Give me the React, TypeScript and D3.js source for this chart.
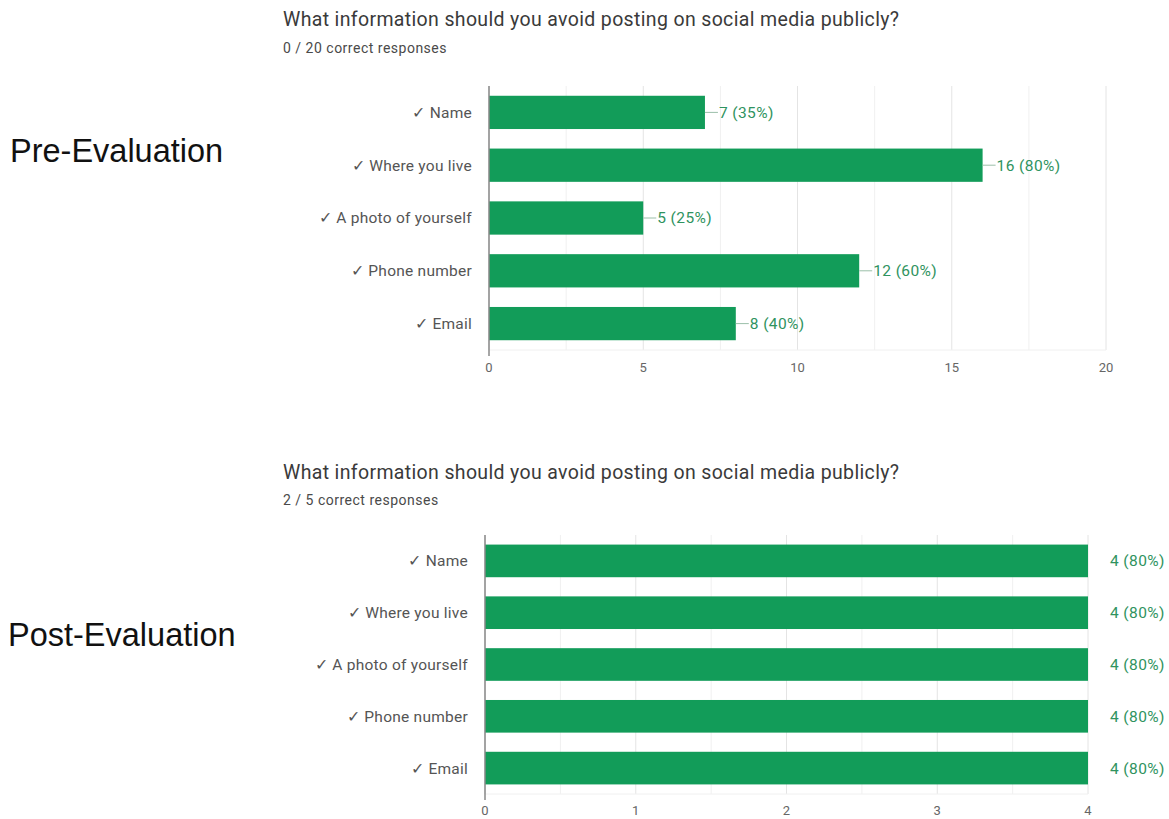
import React from "react";
import * as d3 from "d3";

const categories = ["✓ Name", "✓ Where you live", "✓ A photo of yourself", "✓ Phone number", "✓ Email"];
const preCounts = [7, 16, 5, 12, 8];
const preTotal = 20;
const preTicks = [0, 5, 10, 15, 20];
const postCounts = [4, 4, 4, 4, 4];
const postTotal = 5;
const postTicks = [0, 1, 2, 3, 4];
const questionTitle = "What information should you avoid posting on social media publicly?";
const preSubtitle = "0 / 20 correct responses";
const postSubtitle = "2 / 5 correct responses";
const sectionLabels = ["Pre-Evaluation", "Post-Evaluation"];

const FONT = "Roboto, Arial, 'Liberation Sans', sans-serif";
const BAR = "#129c59";
const VAL = "#2f9360";

type ChartProps = {
  counts: number[];
  total: number;
  ticks: number[];
  subtitle: string;
  xRange: [number, number];
  yRange: [number, number];
  titleY: number;
  subY: number;
  tickY: number;
  labelX: number;
  leader: boolean;
  valueGap: number;
};

function Chart(p: ChartProps) {
  const maxT = p.ticks[p.ticks.length - 1];
  const x = d3.scaleLinear().domain([0, maxT]).range(p.xRange);
  const y = d3.scaleBand<string>().domain(categories).range(p.yRange).paddingInner(0.37).paddingOuter(0.185);
  const step = p.ticks[1] - p.ticks[0];
  const minor = d3.range(0, maxT + 1e-9, step / 2);
  const [y0, y1] = p.yRange;
  return (
    <g>
      <text x={283} y={p.titleY} fontFamily={FONT} fontSize={19.5} letterSpacing={0.35} fill="#3a3a3a">{questionTitle}</text>
      <text x={283} y={p.subY} fontFamily={FONT} fontSize={14} letterSpacing={0.5} fill="#4a4a4a">{p.subtitle}</text>
      {minor.map((t, i) => (
        <line key={"g" + i} x1={x(t)} x2={x(t)} y1={y0} y2={y1} stroke={i % 2 === 0 ? "#e4e4e4" : "#f0f0f0"} strokeWidth={1} />
      ))}
      <line x1={p.xRange[0]} x2={p.xRange[1]} y1={y1} y2={y1} stroke="#f0f0f0" strokeWidth={1} />
      {p.counts.map((c, i) => {
        const cat = categories[i];
        const yy = y(cat)!;
        const cy = yy + y.bandwidth() / 2;
        const x1 = x(c);
        const pct = Math.round((c / p.total) * 100);
        return (
          <g key={cat}>
            <rect x={x(0)} y={yy} width={x1 - x(0)} height={y.bandwidth()} fill={BAR} />
            <text x={p.labelX} y={cy} dy="0.35em" textAnchor="end" fontFamily={FONT} fontSize={15.5} letterSpacing={0.25} fill="#555">{cat}</text>
            {p.leader && <line x1={x1} x2={x1 + 13} y1={cy} y2={cy} stroke="#9bbfa9" strokeWidth={1} />}
            <text x={x1 + p.valueGap} y={cy} dy="0.35em" fontFamily={FONT} fontSize={15.5} letterSpacing={0.4} fill={VAL}>{`${c} (${pct}%)`}</text>
          </g>
        );
      })}
      <line x1={x(0)} x2={x(0)} y1={y0} y2={y1 + 6} stroke="#888" strokeWidth={1.5} />
      {p.ticks.map((t) => (
        <text key={"t" + t} x={x(t)} y={p.tickY} textAnchor="middle" fontFamily={FONT} fontSize={13} fill="#666">{t}</text>
      ))}
    </g>
  );
}

export default function App() {
  return (
    <svg width={1169} height={819} style={{ position: "absolute", left: 0, top: 0, background: "#fff" }}>
      <rect width={1169} height={819} fill="#fff" />
      <text x={10} y={162} fontFamily="Arial, 'Liberation Sans', sans-serif" fontSize={32.5} fill="#111">{sectionLabels[0]}</text>
      <text x={8} y={646} fontFamily="Arial, 'Liberation Sans', sans-serif" fontSize={32.5} fill="#111">{sectionLabels[1]}</text>
      <Chart counts={preCounts} total={preTotal} ticks={preTicks} subtitle={preSubtitle}
        xRange={[489, 1106]} yRange={[86, 350]} titleY={26} subY={53} tickY={372} labelX={472} leader={true} valueGap={14} />
      <Chart counts={postCounts} total={postTotal} ticks={postTicks} subtitle={postSubtitle}
        xRange={[485, 1088]} yRange={[535, 794]} titleY={479} subY={505} tickY={815} labelX={468} leader={false} valueGap={22} />
    </svg>
  );
}
